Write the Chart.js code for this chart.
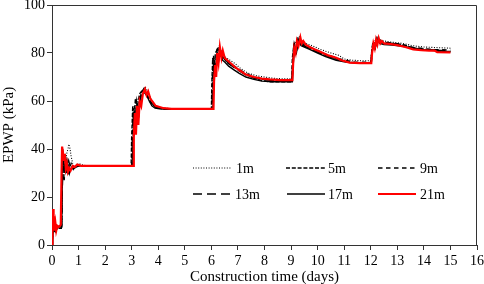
<!DOCTYPE html>
<html>
<head>
<meta charset="utf-8">
<script src="https://cdn.jsdelivr.net/npm/chart.js@4.4.1/dist/chart.umd.min.js"></script>
<style>
html,body{margin:0;padding:0;background:#fff;}
#wrap{width:484px;height:284px;position:relative;}
</style>
</head>
<body>
<div id="wrap"><canvas id="c" width="484" height="284"></canvas></div>
<script>
// ---- data (time in days, EPWP in kPa) ----
const seriesNames = ["1m", "5m", "9m", "13m", "17m", "21m"];
const xTicks = [0,1,2,3,4,5,6,7,8,9,10,11,12,13,14,15,16];
const yTicks = [0,20,40,60,80,100];

const s1m = [[0,0],[0.05,10],[0.1,6],[0.2,7],[0.3,7.5],[0.36,7.5],[0.4,30],[0.45,36],[0.5,33],[0.55,38],[0.6,40],[0.64,42],[0.68,40],[0.72,37],[0.78,34],[0.85,32],[0.92,33],[1.0,34],[1.1,33.5],[1.3,33],[2,33],[3.02,33],[3.05,50],[3.1,58],[3.15,52],[3.2,60],[3.3,62],[3.4,64],[3.5,66],[3.6,64],[3.7,61.5],[3.8,59],[3.95,57.5],[4.2,57],[4.6,56.8],[6.03,56.8],[6.06,70],[6.1,78],[6.16,74],[6.22,81],[6.3,83],[6.4,80],[6.5,78.5],[6.7,77],[6.9,75.5],[7.1,73.5],[7.4,71.5],[7.7,70.5],[8.0,70],[8.3,69.5],[8.6,69.3],[9.05,69.3],[9.08,78],[9.15,84],[9.25,86],[9.3,87],[9.4,85],[9.55,84],[9.8,83],[10.1,81.5],[10.5,80],[10.8,79],[11.0,77.5],[11.3,77],[11.6,76.8],[12.0,76.8],[12.05,82],[12.15,85],[12.25,86.5],[12.35,85.5],[12.5,85],[12.8,84.5],[13.2,84],[13.6,83],[14.0,82.5],[14.4,82.3],[15,82]];

const s5m = [[0,0],[0.05,8],[0.1,6],[0.2,7],[0.3,7],[0.35,7],[0.38,25],[0.42,35],[0.46,30],[0.5,36],[0.55,31],[0.6,35],[0.66,32],[0.72,34],[0.8,32],[0.9,33],[1.1,33],[2,33],[2.98,33],[3.0,45],[3.04,58],[3.08,50],[3.14,61],[3.2,57],[3.3,63],[3.4,64.5],[3.5,63.5],[3.6,62],[3.7,59.5],[3.85,58],[4.0,57],[4.3,56.5],[6.0,56.5],[6.02,68],[6.05,78],[6.1,72],[6.15,80],[6.25,82],[6.35,79],[6.45,78],[6.6,76],[6.8,74.5],[7.0,73],[7.3,71],[7.6,69.5],[7.9,68.5],[8.2,68],[8.6,68],[9.02,68],[9.05,78],[9.1,83],[9.18,81],[9.25,85.5],[9.35,84],[9.5,83],[9.7,82],[10,80.5],[10.3,79],[10.7,77.5],[11,76.5],[11.4,76],[12.0,76],[12.03,80],[12.08,84.5],[12.14,82.5],[12.22,86],[12.3,85],[12.45,84.5],[12.8,84],[13.2,83.5],[13.6,82],[14,81.5],[14.4,81],[14.6,80.5],[15,80.5]];

const s9m = [[0,0],[0.05,9],[0.1,5],[0.2,7],[0.3,7.5],[0.36,7.5],[0.39,28],[0.43,37],[0.47,31],[0.52,37],[0.57,32],[0.63,35],[0.7,31.5],[0.8,33],[0.9,32.5],[1.05,33],[2,33],[3.0,33],[3.03,48],[3.07,57],[3.12,50],[3.18,60],[3.25,56],[3.35,63],[3.45,65],[3.55,63],[3.65,61],[3.75,59],[3.9,57.5],[4.1,57],[4.5,56.5],[6.02,56.5],[6.04,70],[6.08,79],[6.13,73],[6.2,81],[6.28,83],[6.36,79.5],[6.46,78],[6.6,76.5],[6.8,75],[7.0,73.5],[7.3,71.5],[7.6,70],[7.9,69],[8.3,68.5],[9.03,68.5],[9.06,77],[9.12,84],[9.18,82],[9.26,86],[9.35,84.5],[9.5,83.5],[9.7,82.5],[10,81],[10.3,79.5],[10.7,78],[11,77],[11.4,76.2],[12.01,76.2],[12.04,81],[12.1,85],[12.16,83],[12.24,86.5],[12.33,85],[12.5,84.5],[12.8,84.2],[13.2,83.5],[13.6,82.3],[14,81.8],[14.4,81.5],[15,81.2]];

const s13m = [[0,0],[0.05,10],[0.1,6],[0.2,7.5],[0.3,7.5],[0.36,7.5],[0.39,24],[0.42,33],[0.46,27],[0.5,35],[0.55,29],[0.6,34],[0.66,30],[0.72,33],[0.8,31.5],[0.9,33],[1.1,33],[2,33],[3.02,33],[3.05,44],[3.1,55],[3.14,47],[3.2,59],[3.27,55],[3.35,62],[3.45,64],[3.55,62.5],[3.65,60.5],[3.8,58.5],[3.95,57.2],[4.2,56.8],[6.04,56.8],[6.07,67],[6.11,77],[6.16,71],[6.22,80],[6.3,81.5],[6.4,78.5],[6.5,77],[6.65,75.5],[6.85,74],[7.05,72.5],[7.35,70.5],[7.65,69.5],[8,68.8],[8.4,68.5],[9.04,68.5],[9.07,76],[9.12,83],[9.2,80.5],[9.27,85],[9.36,83.5],[9.5,83],[9.7,82],[10,80.5],[10.3,79],[10.7,77.5],[11,76.5],[11.4,76],[12.02,76],[12.05,80],[12.1,84],[12.17,82],[12.25,85.5],[12.35,84.5],[12.5,84],[12.8,83.8],[13.2,83],[13.6,82],[14,81.5],[14.4,81.2],[15,80.8]];

const s17m = [[0,0],[0.03,13],[0.06,7],[0.1,10],[0.15,6],[0.2,7.5],[0.3,8],[0.34,8],[0.37,32],[0.4,40],[0.44,36],[0.48,37],[0.52,31],[0.57,33],[0.62,30],[0.68,31.5],[0.76,32.5],[0.85,32],[0.95,33],[1.1,33],[2,33],[3.04,33],[3.07,46],[3.11,56],[3.15,48],[3.2,59],[3.26,53],[3.32,61],[3.4,63],[3.5,64],[3.58,62],[3.66,60],[3.76,58],[3.88,57],[4.05,56.7],[4.4,56.5],[6.06,56.5],[6.09,69],[6.13,76],[6.17,71],[6.22,80],[6.28,77],[6.34,81],[6.42,77],[6.52,76],[6.65,74.5],[6.85,73],[7.05,71.5],[7.3,70],[7.6,69],[7.9,68.3],[8.3,68],[9.05,68],[9.08,75],[9.13,82],[9.2,80],[9.28,85],[9.38,83],[9.5,82.5],[9.7,81.5],[10,80],[10.3,78.5],[10.7,77],[11,76.3],[11.4,75.8],[12.02,75.8],[12.05,80],[12.1,84],[12.16,82],[12.24,85.5],[12.34,84],[12.5,83.5],[12.8,83.3],[13.2,82.8],[13.6,82],[14,81.5],[14.4,81.3],[14.6,80.8],[15,80.6]];

const s21m = [[0,0],[0.02,12],[0.04,15],[0.06,9],[0.08,12],[0.1,6],[0.13,9],[0.16,6],[0.2,8],[0.25,7.5],[0.3,8],[0.33,8.5],[0.36,30],[0.38,41],[0.42,38],[0.45,35],[0.48,38],[0.52,32],[0.56,34],[0.6,30.5],[0.65,32],[0.7,31],[0.78,33],[0.85,32.5],[0.95,33.5],[1.1,33],[2,33],[3.05,33],[3.08,45],[3.12,55],[3.16,46],[3.2,58],[3.25,50],[3.3,60],[3.36,58],[3.42,63],[3.5,65],[3.56,62.5],[3.62,64],[3.7,61],[3.8,59.5],[3.9,58],[4.05,57.5],[4.2,57],[4.5,56.7],[5,56.7],[6.08,56.7],[6.1,68],[6.14,75],[6.18,70],[6.22,80],[6.27,76],[6.32,82.5],[6.38,78],[6.43,81],[6.5,78],[6.6,77],[6.75,75.5],[6.9,74],[7.1,72.5],[7.3,71],[7.6,70],[7.9,69.3],[8.2,69],[8.6,68.7],[9.05,68.7],[9.08,76],[9.12,82],[9.17,80],[9.22,85],[9.28,83],[9.35,86.5],[9.4,84],[9.46,85],[9.55,83.5],[9.7,82.5],[9.9,81.5],[10.1,80.5],[10.4,79],[10.7,78],[10.9,77],[11.2,76],[11.6,75.8],[12.02,75.8],[12.05,80],[12.1,84],[12.15,82],[12.2,85.5],[12.25,83.5],[12.3,86.2],[12.36,84],[12.42,85],[12.5,84],[12.7,83.8],[13.0,83.3],[13.3,82.5],[13.6,81.5],[13.9,81.2],[14.2,81],[14.4,81],[14.5,80.4],[15,80.3]];

const seriesData = [s1m, s5m, s9m, s13m, s17m, s21m];
const seriesColors = ["#000000","#000000","#000000","#000000","#000000","#ff0000"];
const seriesDash = [[1,1.6],[4,1.8],[4.5,3.5],[9,5],[],[]];
const seriesWidth = [1.1,1.4,1.4,1.4,1.4,2.2];

const FONT = "'Liberation Serif','Times New Roman',serif";

const datasets = seriesNames.map((n,i)=>({
  label: n,
  data: seriesData[i].map(p=>({x:p[0], y:p[1]})),
  borderColor: seriesColors[i],
  borderDash: seriesDash[i],
  borderWidth: seriesWidth[i],
  pointRadius: 0,
  tension: 0,
  fill: false,
  order: i === 5 ? 0 : 6 - i
}));

// legend layout: [lineStartX, lineEndX, textX, y]
const legendSlots = [
  [193,231,236,168],[286,325,328,168],[378,415,420,168],
  [193,232,235,194],[287,325,328,194],[378,416,420,194]
];

const framePlugin = {
  id:'frame',
  afterDraw(chart){
    const {ctx, chartArea:a} = chart;
    ctx.save();
    ctx.strokeStyle = '#333';
    ctx.lineWidth = 1;
    ctx.beginPath();
    ctx.moveTo(a.left, a.top+0.5);
    ctx.lineTo(a.right-0.5, a.top+0.5);
    ctx.lineTo(a.right-0.5, a.bottom);
    ctx.stroke();
    chart.data.datasets.forEach((ds,i)=>{
      const s = legendSlots[i];
      ctx.beginPath();
      ctx.setLineDash(ds.borderDash || []);
      ctx.strokeStyle = ds.borderColor;
      ctx.lineWidth = ds.borderWidth;
      ctx.moveTo(s[0], s[3]);
      ctx.lineTo(s[1], s[3]);
      ctx.stroke();
      ctx.setLineDash([]);
      ctx.fillStyle = '#000';
      ctx.font = "14px " + FONT;
      ctx.textAlign = 'left';
      ctx.textBaseline = 'middle';
      ctx.fillText(ds.label, s[2], s[3]+1);
    });
    ctx.restore();
  }
};

new Chart(document.getElementById('c'), {
  type: 'line',
  data: { datasets },
  options: {
    responsive: false,
    animation: false,
    devicePixelRatio: 1,
    layout: { padding: { left: 0, right: 7, top: 5, bottom: 0 } },
    plugins: { legend: { display: false }, tooltip: { enabled: false } },
    scales: {
      x: {
        type: 'linear', min: 0, max: 16,
        afterBuildTicks(s){ s.ticks = xTicks.map(v=>({value:v})); },
        afterFit(s){ s.height = 39; s.paddingLeft = 0; s.paddingRight = 0; },
        ticks: { color:'#000', font:{ family: FONT, size: 14 }, padding: 3, maxRotation: 0, autoSkip: false },
        grid: { drawOnChartArea: false, drawTicks: true, tickLength: 5, color: '#333' },
        border: { color: '#333', width: 1 },
        title: { display: true, text: 'Construction time (days)', color:'#000', font:{ family: FONT, size: 15 }, padding: { top: 0, bottom: -2 } }
      },
      y: {
        type: 'linear', min: 0, max: 100,
        afterBuildTicks(s){ s.ticks = yTicks.map(v=>({value:v})); },
        afterFit(s){ s.width = 52; s.paddingTop = 0; s.paddingBottom = 0; },
        ticks: { color:'#000', font:{ family: FONT, size: 14 }, padding: 2 },
        grid: { drawOnChartArea: false, drawTicks: true, tickLength: 5, color: '#333' },
        border: { color: '#333', width: 1 },
        title: { display: true, text: 'EPWP (kPa)', color:'#000', font:{ family: FONT, size: 15 }, padding: { top: 0, bottom: 0 } }
      }
    }
  },
  plugins: [framePlugin]
});
</script>
</body>
</html>
